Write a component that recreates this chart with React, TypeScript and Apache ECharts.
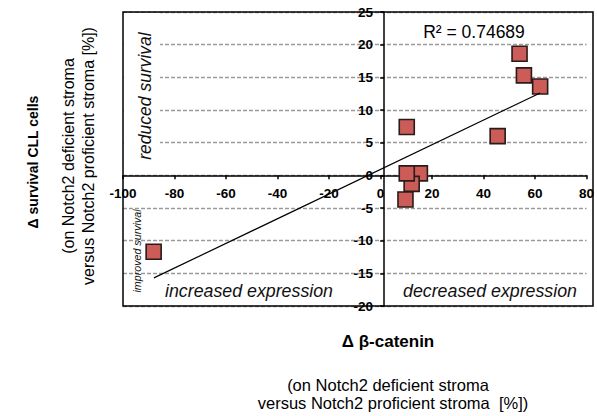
import React, { useEffect, useRef } from "react";
import * as echarts from "echarts";

const betaCatenin = [54, 55.7, 62, 45.5, 10.2, 15.3, 12.1, 9.7, 10.2, -88.1];
const survival = [18.6, 15.3, 13.6, 6.0, 7.4, 0.3, -1.3, -3.7, 0.3, -11.7];
const trendX = [-88, 62];
const trendY = [-15.7, 12.6];
const xMin = -100, xMax = 80, xStep = 20;
const yMin = -20, yMax = 25, yStep = 5;
const rSquared = "R² = 0.74689";

const FONT = '"Liberation Sans", Arial, sans-serif';

export default function App() {
  const ref = useRef<HTMLDivElement>(null);
  useEffect(() => {
    if (!ref.current) return;
    const chart = echarts.init(ref.current, undefined, { renderer: "svg" });
    const gl = 123, gt = 12, gw = 470, gh = 294;
    const zeroY = gt + gh * (yMax / (yMax - yMin));
    const zeroX = gl + gw * ((0 - xMin) / (xMax - xMin));
    const pts = betaCatenin.map((x, i) => [x, survival[i]]);
    const trend = trendX.map((x, i) => [x, trendY[i]]);
    const txt = (x: number, y: number, text: string, size: number, opts: any = {}) => ({
      type: "text",
      x,
      y,
      rotation: opts.rot || 0,
      z: 20,
      style: {
        text,
        fontSize: size,
        lineHeight: size,
        fontFamily: FONT,
        fontStyle: opts.italic ? "italic" : "normal",
        fontWeight: opts.bold ? "bold" : "normal",
        fill: opts.fill || "#000",
        align: "center",
        verticalAlign: "middle",
      },
    });
    const labelStyle = {
      margin: 11,
      color: "#000",
      fontWeight: "bold",
      fontSize: 13.5,
      fontFamily: FONT,
      showMinLabel: true,
      showMaxLabel: true,
    };
    chart.setOption({
      animation: false,
      backgroundColor: "#fff",
      grid: { left: gl, top: gt, width: gw, height: gh, show: false },
      xAxis: {
        type: "value",
        min: xMin,
        max: xMax,
        interval: xStep,
        position: "bottom",
        offset: -(gt + gh - zeroY),
        axisLine: { show: true, onZero: false, lineStyle: { color: "#000", width: 1.5 } },
        axisTick: { show: true, length: 4, lineStyle: { color: "#000", width: 1.5 } },
        axisLabel: labelStyle,
        splitLine: { show: false },
      },
      yAxis: {
        type: "value",
        min: yMin,
        max: yMax,
        interval: yStep,
        position: "left",
        offset: -(zeroX - gl),
        axisLine: { show: true, onZero: false, lineStyle: { color: "#000", width: 1.5 } },
        axisTick: { show: true, length: 4, lineStyle: { color: "#000", width: 1.5 } },
        axisLabel: labelStyle,
        splitLine: { show: true, lineStyle: { color: "#9a9a9a", width: 1.3, type: [4, 2] } },
      },
      series: [
        {
          type: "scatter",
          data: pts,
          symbol: "rect",
          symbolSize: 15,
          z: 3,
          itemStyle: {
            color: "#CC5C57",
            borderColor: "#2a1a1a",
            borderWidth: 1.6,
            opacity: 1,
          },
        },
        {
          type: "line",
          data: trend,
          symbol: "none",
          z: 4,
          lineStyle: { color: "#000", width: 1.2 },
        },
      ],
      graphic: [
        {
          type: "rect",
          z: 1,
          shape: { x: gl + 1, y: gt + 1, width: 36, height: 160 },
          style: { fill: "#fff" },
        },
        {
          type: "rect",
          z: 30,
          shape: { x: gl, y: gt, width: gw, height: gh },
          style: { fill: "none", stroke: "#000", lineWidth: 1.5 },
        },
        txt(474, 32, rSquared, 17.5),
        txt(145, 96, "reduced survival", 17.5, { italic: true, rot: Math.PI / 2, fill: "#111" }),
        txt(137, 251, "improved survival", 10.7, { italic: true, rot: Math.PI / 2, fill: "#111" }),
        txt(249, 291, "increased expression", 17.8, { italic: true, fill: "#111" }),
        txt(490, 291, "decreased expression", 17.8, { italic: true, fill: "#111" }),
        txt(33, 162, "Δ survival CLL cells", 14, { bold: true, rot: Math.PI / 2 }),
        txt(68, 156, "(on Notch2 deficient stroma", 16, { rot: Math.PI / 2 }),
        txt(88, 156, "versus Notch2 proficient stroma [%])", 16, { rot: Math.PI / 2 }),
        txt(388, 341, "Δ β-catenin", 17, { bold: true }),
        txt(388, 385, "(on Notch2 deficient stroma", 16.5),
        txt(393, 403, "versus Notch2 proficient stroma  [%])", 16.5),
      ],
    });
    return () => chart.dispose();
  }, []);
  return (
    <div
      ref={ref}
      style={{ position: "absolute", left: 0, top: 0, width: 597, height: 416 }}
    />
  );
}
